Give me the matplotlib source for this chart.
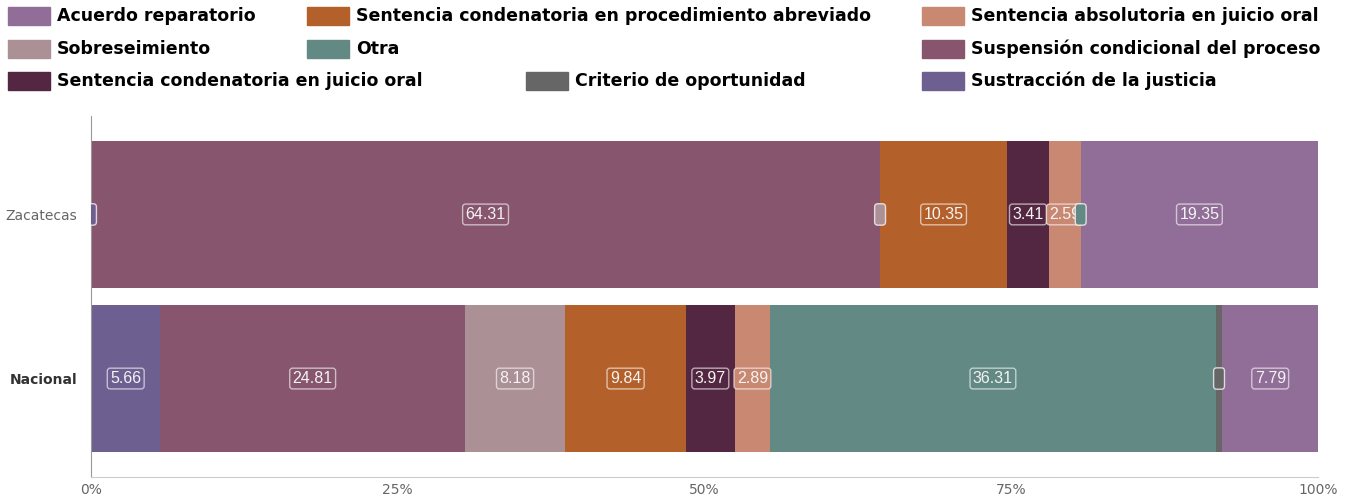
import matplotlib.pyplot as plt
from matplotlib.patches import Rectangle

CATEGORIES = ['Nacional', 'Zacatecas']

SERIES = [
    'Sustracción de la justicia',
    'Suspensión condicional del proceso',
    'Sobreseimiento',
    'Sentencia condenatoria en procedimiento abreviado',
    'Sentencia condenatoria en juicio oral',
    'Sentencia absolutoria en juicio oral',
    'Otra',
    'Criterio de oportunidad',
    'Acuerdo reparatorio',
]

# values per series: [Nacional, Zacatecas]  (None = not present)
SUSTRACCION = [5.66, 0.0]
SUSPENSION = [24.81, 64.31]
SOBRESEIMIENTO = [8.18, 0.0]
ABREVIADO = [9.84, 10.35]
CONDENA_ORAL = [3.97, 3.41]
ABSOLUTORIA = [2.89, 2.59]
OTRA = [36.31, 0.0]
CRITERIO = [0.55, None]
ACUERDO = [7.79, 19.35]

VALUES = [SUSTRACCION, SUSPENSION, SOBRESEIMIENTO, ABREVIADO, CONDENA_ORAL,
          ABSOLUTORIA, OTRA, CRITERIO, ACUERDO]

COLOURS = {
    'Acuerdo reparatorio': '#916E98',
    'Sentencia condenatoria en procedimiento abreviado': '#B4602A',
    'Sentencia absolutoria en juicio oral': '#C98872',
    'Sobreseimiento': '#AB9096',
    'Otra': '#628984',
    'Suspensión condicional del proceso': '#87566E',
    'Sentencia condenatoria en juicio oral': '#532742',
    'Criterio de oportunidad': '#666666',
    'Sustracción de la justicia': '#6E5F91',
}

# legend layout as shown in the reference (row, x of swatch in px)
LEGEND_ITEMS = [
    ('Acuerdo reparatorio', 0, 8),
    ('Sentencia condenatoria en procedimiento abreviado', 0, 307),
    ('Sentencia absolutoria en juicio oral', 0, 922),
    ('Sobreseimiento', 1, 8),
    ('Otra', 1, 307),
    ('Suspensión condicional del proceso', 1, 922),
    ('Sentencia condenatoria en juicio oral', 2, 8),
    ('Criterio de oportunidad', 2, 526),
    ('Sustracción de la justicia', 2, 922),
]

W, H = 1346, 498
fig = plt.figure(figsize=(W / 100, H / 100), dpi=100)
ax = fig.add_axes([91 / W, 1 - 477 / H, (1318 - 91) / W, (477 - 116) / H])

y = list(range(len(CATEGORIES)))
left = [0.0] * len(CATEGORIES)

for name, vals in zip(SERIES, VALUES):
    color = COLOURS[name]
    for i, v in enumerate(vals):
        if v is None:
            continue
        ax.barh(y[i], v, left=left[i], height=0.9, color=color, linewidth=0)
        cx = left[i] + v / 2
        if v >= 1:
            ax.text(cx, y[i], f'{v:.2f}', ha='center', va='center', color='#f4f4f4',
                    fontsize=11.5, family='Liberation Sans',
                    bbox=dict(boxstyle='round,pad=0.18', fc=color,
                              ec=(1, 1, 1, 0.6), lw=1))
        else:
            ax.text(cx, y[i], ' ', ha='center', va='center', fontsize=11.5,
                    family='Liberation Sans',
                    bbox=dict(boxstyle='round,pad=0.2', fc=color,
                              ec=(1, 1, 1, 0.75), lw=1), clip_on=True)
        left[i] += v

ax.set_xlim(0, 100)
ax.set_ylim(-0.6, 1.6)
ax.set_xticks([0, 25, 50, 75, 100])
ax.set_xticklabels(['0%', '25%', '50%', '75%', '100%'], color='#666666', fontsize=10)
ax.set_yticks(y)
ax.set_yticklabels(CATEGORIES, fontsize=10)
for lbl in ax.get_yticklabels():
    if lbl.get_text() == 'Nacional':
        lbl.set_fontweight('bold')
        lbl.set_color('#333333')
    else:
        lbl.set_color('#666666')
ax.tick_params(axis='x', length=0, pad=4)
ax.tick_params(axis='y', length=0, pad=10)
for s in ['top', 'right']:
    ax.spines[s].set_visible(False)
ax.spines['left'].set_color('#999999')
ax.spines['bottom'].set_color('#cccccc')

row_y = [16, 49, 81]
for name, row, px in LEGEND_ITEMS:
    yc = row_y[row]
    fig.patches.append(Rectangle((px / W, 1 - (yc + 9) / H), 42 / W, 18 / H,
                                 transform=fig.transFigure, color=COLOURS[name]))
    fig.text((px + 49) / W, 1 - yc / H, name, ha='left', va='center',
             fontsize=12.5, fontweight='bold', color='black')

fig.savefig('out.png', dpi=100)
